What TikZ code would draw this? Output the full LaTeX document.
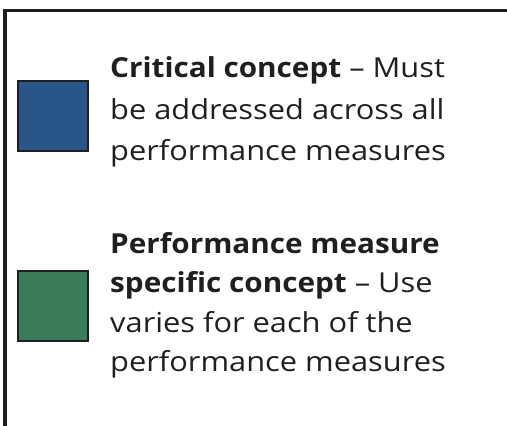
\documentclass[tikz,border=0pt]{standalone}
\usepackage{fontspec}
\setmainfont{Open Sans}[FakeStretch=1.12, BoldFeatures={FakeStretch=1.08}]
\begin{document}
\begin{tikzpicture}[x=1pt,y=-1pt,
  frame/.style={draw=black!88, line width=3.8pt},
  swatch/.style={draw=black!88, line width=2pt, minimum width=70pt, minimum height=70pt, inner sep=0pt},
  txt/.style={anchor=base west, inner sep=0pt, text=black!88, font=\fontsize{27.5}{40}\selectfont}]
\useasboundingbox (0,0) rectangle (507,426);
\coordinate (tl) at (5,10.5);
\coordinate (tr) at (507,10.5);
\coordinate (bl) at (5,426);
\draw[frame] (bl) -- (tl) -- (tr);
\definecolor{critblue}{RGB}{42,85,137}
\definecolor{pmgreen}{RGB}{58,124,89}
\node[swatch, fill=critblue] (blue) at (53,116) {};
\node[swatch, fill=pmgreen] (green) at (53,306) {};
\node[txt] (a1) at (110,77) {\textbf{Critical concept} – Must};
\node[txt] (a2) at (110,119) {be addressed across all};
\node[txt] (a3) at (110,160) {performance measures};
\node[txt] (b1) at (110,253) {\textbf{Performance measure}};
\node[txt] (b2) at (110,292) {\textbf{specific concept} – Use};
\node[txt] (b3) at (110,332) {varies for each of the};
\node[txt] (b4) at (110,371) {performance measures};
\end{tikzpicture}
\end{document}
